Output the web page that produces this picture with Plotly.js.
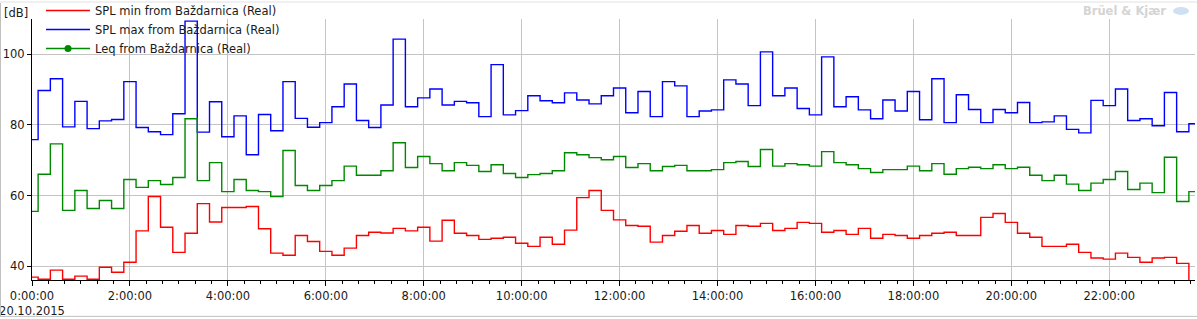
<!DOCTYPE html>
<html>
<head>
<meta charset="utf-8">
<script src="https://cdn.plot.ly/plotly-3.0.1.min.js"></script>
<style>
html,body{margin:0;padding:0;background:#fff;overflow:hidden;}
#wrap{position:relative;width:1197px;height:319px;overflow:hidden;}
#chart{position:absolute;left:0;top:-5px;width:1197px;height:324px;}
</style>
</head>
<body>
<div id="wrap"><div id="chart"></div></div>
<script>
// Time of day for each 15-minute sample on 20.10.2015
const times = [
 "00:00","00:15","00:30","00:45","01:00","01:15","01:30","01:45",
 "02:00","02:15","02:30","02:45","03:00","03:15","03:30","03:45",
 "04:00","04:15","04:30","04:45","05:00","05:15","05:30","05:45",
 "06:00","06:15","06:30","06:45","07:00","07:15","07:30","07:45",
 "08:00","08:15","08:30","08:45","09:00","09:15","09:30","09:45",
 "10:00","10:15","10:30","10:45","11:00","11:15","11:30","11:45",
 "12:00","12:15","12:30","12:45","13:00","13:15","13:30","13:45",
 "14:00","14:15","14:30","14:45","15:00","15:15","15:30","15:45",
 "16:00","16:15","16:30","16:45","17:00","17:15","17:30","17:45",
 "18:00","18:15","18:30","18:45","19:00","19:15","19:30","19:45",
 "20:00","20:15","20:30","20:45","21:00","21:15","21:30","21:45",
 "22:00","22:15","22:30","22:45","23:00","23:15","23:30","23:45"
];
const day = "2015-10-20";

const splMin = [
 36.9,36.3,38.9,36.3,37.2,36.3,39.7,38.3,41.1,50.0,
 59.7,51.0,43.9,49.3,57.7,52.5,56.6,56.6,56.9,50.6,
 43.7,43.1,48.7,47.0,44.2,43.1,45.1,48.7,49.6,49.4,
 50.7,50.0,51.0,47.1,53.0,49.3,48.7,47.6,47.9,48.2,
 46.5,45.6,48.2,46.2,50.2,59.4,61.4,55.8,53.1,51.5,
 51.3,46.8,48.7,49.9,51.5,49.3,50.1,49.0,51.5,51.3,
 52.1,50.1,50.7,52.4,52.1,49.6,50.1,49.0,50.7,47.9,
 49.0,48.7,47.9,48.7,49.3,49.6,48.7,48.7,53.8,54.9,
 52.4,49.3,48.2,45.6,45.6,46.2,43.9,42.3,42.0,43.7,
 42.5,41.1,42.3,42.5,40.8,34.0
];
const splMax = [
 75.8,89.7,93.0,79.4,86.6,78.9,81.1,81.5,92.2,79.2,
 78.0,77.2,83.1,109.3,77.9,86.5,76.6,82.5,71.5,82.9,
 78.3,92.2,81.8,79.3,80.6,85.1,91.5,81.2,79.2,85.6,
 104.2,85.1,87.6,90.1,85.6,86.6,86.2,82.3,97.0,82.8,
 84.0,88.2,86.8,86.2,89.0,87.0,85.9,88.2,90.4,83.4,
 89.4,82.3,92.2,91.0,82.3,83.9,84.2,92.7,91.5,85.4,
 100.6,88.2,90.4,84.6,82.8,99.2,85.1,87.9,84.2,81.7,
 87.0,83.9,89.4,81.4,93.0,80.6,88.5,84.3,80.6,84.3,
 83.4,86.3,80.6,80.8,82.5,78.7,77.7,86.9,85.4,90.1,
 81.2,81.7,79.7,89.1,78.0,80.3
];
const leq = [
 55.5,66.0,74.6,55.8,61.4,56.3,58.6,56.3,64.5,62.3,
 64.2,63.1,65.1,81.7,64.2,69.3,61.1,64.5,61.4,61.1,
 59.7,72.7,62.8,61.4,62.8,64.2,68.3,65.7,65.7,67.0,
 74.9,67.9,71.0,69.0,67.0,69.3,68.5,66.8,68.7,66.2,
 65.1,65.9,66.2,67.0,72.1,71.5,70.7,70.1,71.0,67.9,
 69.0,67.0,68.2,68.5,67.0,67.0,67.3,69.3,69.6,68.2,
 73.0,68.3,69.0,68.7,68.3,72.4,69.3,68.7,67.6,66.5,
 67.3,67.3,68.3,67.0,69.0,66.0,67.6,68.0,67.6,68.7,
 67.6,68.0,65.7,64.2,65.7,63.2,61.4,63.5,64.5,66.8,
 61.7,63.5,60.8,70.8,58.3,61.1
];

const seriesNames = [
 "SPL min from Baždarnica (Real)",
 "SPL max from Baždarnica (Real)",
 "Leq from Baždarnica (Real)"
];
const tickTimes = ["00:00","02:00","04:00","06:00","08:00","10:00","12:00","14:00","16:00","18:00","20:00","22:00"];
const tickLabels = ["0:00:00<br>20.10.2015","2:00:00","4:00:00","6:00:00","8:00:00","10:00:00","12:00:00","14:00:00","16:00:00","18:00:00","20:00:00","22:00:00"];
const yTicks = [40,60,80,100];
const yUnit = "[dB]";
const brand = "Brüel & Kjær";

const x = times.map(t => day + " " + t);
const FONT = "DejaVu Sans, Verdana, sans-serif";
const FS = 11.5;

const traces = [
 {x:x, y:splMin, name:seriesNames[0], type:"scatter", mode:"lines",
  line:{color:"#ff0000", width:1.4, shape:"hvh"}},
 {x:x, y:splMax, name:seriesNames[1], type:"scatter", mode:"lines",
  line:{color:"#0000ff", width:1.4, shape:"hvh"}},
 {x:x, y:leq, name:seriesNames[2], type:"scatter", mode:"lines",
  line:{color:"#008800", width:1.4, shape:"hvh"}, showlegend:false, legendgroup:"leq"},
 {x:[null], y:[null], name:seriesNames[2], type:"scatter", mode:"lines+markers",
  line:{color:"#008800", width:1.4}, marker:{color:"#008800", size:7},
  legendgroup:"leq", hoverinfo:"skip"}
];

// page geometry (page pixels); the div is shifted up by OFF px
const OFF = 5;
const L = 32, R = 2, T = 18, B = 39, W = 1197, H = 319;
const pw = W - L - R, ph = H - T - B;
const px = v => (v - L) / pw;
const py = v => 1 - (v - T) / ph;

const layout = {
 width: W, height: H + OFF,
 margin: {l:L, r:R, t:T + OFF, b:B, pad:0},
 paper_bgcolor: "#ffffff",
 plot_bgcolor: "#ffffff",
 font: {family: FONT, size: FS, color: "#1a1a1a"},
 showlegend: true,
 legend: {
  x: px(41), y: py(-4), xanchor: "left", yanchor: "top",
  bgcolor: "rgba(0,0,0,0)", borderwidth: 0,
  font: {family: FONT, size: FS, color: "#1a1a1a"},
  tracegroupgap: 0, itemwidth: 44
 },
 xaxis: {
  type: "date",
  range: [day + " 00:00", day + " 23:45"],
  tickvals: tickTimes.map(t => day + " " + t),
  ticktext: tickLabels,
  ticklabeloverflow: "allow",
  showgrid: true, gridcolor: "#c4c4c4", gridwidth: 1,
  showline: true, linecolor: "#000000", linewidth: 1,
  ticks: "outside", ticklen: 5, tickcolor: "#000000", tickwidth: 1,
  minor: {dtick: 20*60*1000, ticks: "outside", ticklen: 3, tickcolor: "#000000", showgrid: false},
  zeroline: false,
  tickfont: {family: FONT, size: FS, color: "#1a1a1a"},
  fixedrange: true
 },
 yaxis: {
  range: [36.1, 109.9],
  tickvals: yTicks,
  showgrid: true, gridcolor: "#c4c4c4", gridwidth: 1,
  showline: true, linecolor: "#000000", linewidth: 1,
  ticks: "outside", ticklen: 4, tickcolor: "#000000",
  zeroline: false,
  tickfont: {family: FONT, size: FS, color: "#1a1a1a"},
  fixedrange: true
 },
 annotations: [
  {xref:"paper", yref:"paper", x: px(2), y: py(12), xanchor:"left", yanchor:"middle",
   text: yUnit, showarrow:false, font:{family:FONT, size:FS, color:"#1a1a1a"}},
  {xref:"paper", yref:"paper", x: px(1168), y: py(10), xanchor:"right", yanchor:"middle",
   text: "<b>" + brand + "</b>", showarrow:false, font:{family:FONT, size:11.5, color:"#d4d4d4"}}
 ],
 shapes: [
  {type:"line", xref:"paper", yref:"paper", x0:px(0.5), x1:px(0.5), y0:py(0), y1:py(317), line:{color:"#c0c0c0", width:1}},
  {type:"line", xref:"paper", yref:"paper", x0:px(0), x1:px(1197), y0:py(316.5), y1:py(316.5), line:{color:"#c0c0c0", width:1}},
  {type:"rect", xref:"paper", yref:"paper", x0:px(0), x1:px(1197), y0:py(0), y1:py(2), fillcolor:"#f0f0f0", line:{width:0}},
  {type:"circle", xref:"paper", yref:"paper", x0:px(1173), x1:px(1189), y0:py(6), y1:py(14), fillcolor:"#cfe0f2", line:{width:0}}
 ]
};

Plotly.newPlot("chart", traces, layout, {staticPlot:true, displayModeBar:false});
</script>
</body>
</html>
